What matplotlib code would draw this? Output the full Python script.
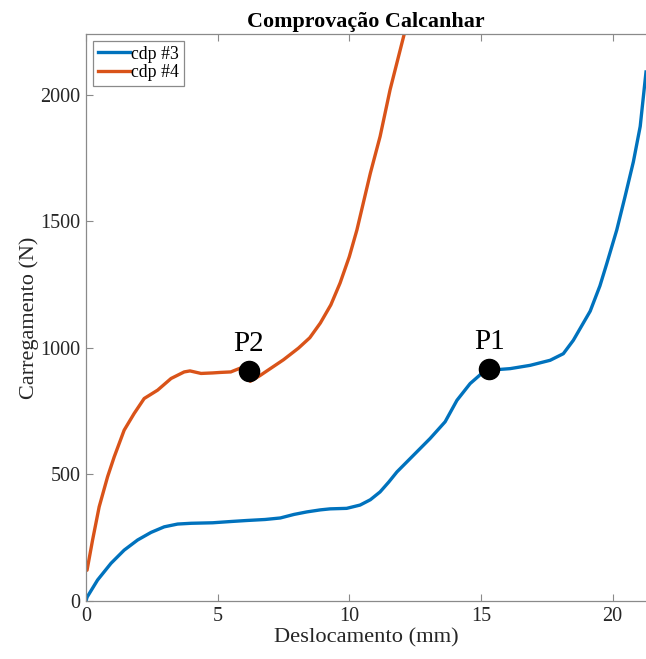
import matplotlib
matplotlib.use("Agg")
import matplotlib.pyplot as plt

plt.rcParams['font.family'] = ['Liberation Serif', 'DejaVu Serif']

# Load-displacement curves for the two specimens
cdp3_x = [0, 0.04, 0.44, 0.95, 1.45, 1.96, 2.47, 2.97, 3.48, 3.99, 4.81, 5.5, 6.1,
          6.8, 7.38, 7.9, 8.39, 8.9, 9.27, 9.9, 10.41, 10.8, 11.17, 11.5, 11.81,
          12.44, 13.07, 13.64, 14.09, 14.59, 15.03, 15.31, 15.73, 16.11, 16.87,
          17.63, 18.13, 18.51, 18.76, 19.15, 19.52, 19.78, 20.16, 20.47, 20.79,
          21.05, 21.27]
cdp3_y = [0, 15, 83, 149, 201, 241, 271, 293, 304, 307, 309, 314, 318,
          322, 328, 342, 352, 360, 364, 366, 379, 400, 431, 470, 510,
          576, 642, 708, 793, 859, 899, 917, 915, 918, 931,
          951, 977, 1030, 1075, 1145, 1245, 1333, 1466, 1596, 1735,
          1875, 2090]

cdp4_x = [0, 0.04, 0.25, 0.5, 0.82, 1.07, 1.45, 1.83, 2.21, 2.72, 3.23, 3.73,
          3.95, 4.37, 4.81, 5.1, 5.5, 5.86, 6.1, 6.24, 6.6, 7.0, 7.5, 8.07,
          8.5, 8.9, 9.3, 9.65, 10.0, 10.29, 10.8, 11.17, 11.55, 12.08, 12.2]
cdp4_y = [120, 122, 241, 372, 491, 569, 675, 741, 800, 833, 879, 905,
          909, 899, 901, 903, 905, 920, 925, 868, 890, 918, 953, 999,
          1040, 1098, 1170, 1256, 1360, 1466, 1690, 1835, 2020, 2237, 2300]

# Highlighted points
point_labels = ['P1', 'P2']
point_x = [15.31, 6.19]
point_y = [917, 909]

x_ticks = [0, 5, 10, 15, 20]
y_ticks = [0, 500, 1000, 1500, 2000]

W, H = 646, 659
fig = plt.figure(figsize=(W / 100, H / 100), dpi=100)
left, right, top, bottom = 86, 646, 34, 601
ax = fig.add_axes([left / W, (H - bottom) / H, (right - left) / W, (bottom - top) / H])

ax.plot(cdp3_x, cdp3_y, color='#0072BD', lw=2.4, label='cdp #3')
ax.plot(cdp4_x, cdp4_y, color='#D95319', lw=2.4, label='cdp #4')

ax.plot(point_x, point_y, 'o', color='black', markersize=14.5, zorder=5)
for lab, px, py in zip(point_labels, point_x, point_y):
    ax.annotate(lab, (px, py), xytext=(0, 10), textcoords='offset points',
                ha='center', va='bottom', fontsize=21, color='black')

ax.set_xlim(0, 21.27)
ax.set_ylim(0, 2240)
ax.set_xticks(x_ticks)
ax.set_yticks(y_ticks)

spine_color = '#8a8a8a'
for side in ['left', 'bottom', 'top']:
    ax.spines[side].set_color(spine_color)
    ax.spines[side].set_linewidth(0.9)
ax.spines['right'].set_visible(False)
ax.tick_params(direction='in', length=5, width=0.8, color=spine_color,
               top=True, labelsize=14.5, labelcolor='#262626', pad=4)

ax.set_xlabel('Deslocamento (mm)', fontsize=16.2, color='#262626', labelpad=2)
ax.set_ylabel('Carregamento (N)', fontsize=16, color='#262626', labelpad=1)
ax.set_title('Comprovação Calcanhar', fontsize=15.8, fontweight='bold', pad=5)

leg = ax.legend(loc='upper left', fontsize=12.8, handlelength=1.8, handletextpad=0.1,
                borderpad=0.25, labelspacing=0.1, fancybox=False, framealpha=1,
                borderaxespad=0.4)
leg.get_frame().set_edgecolor('#8a8a8a')
leg.get_frame().set_linewidth(0.9)

fig.savefig('out.png', dpi=100)
